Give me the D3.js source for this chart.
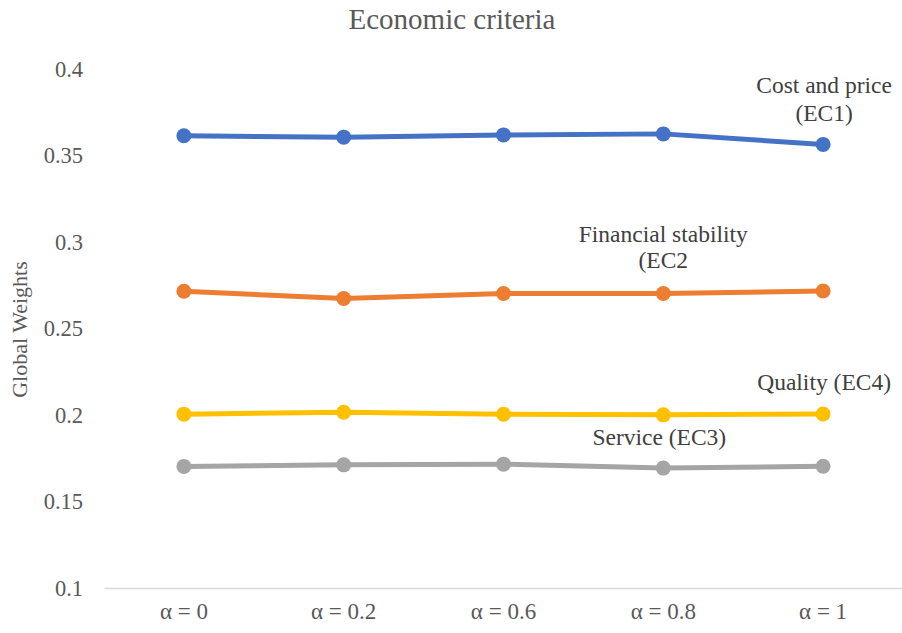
<!DOCTYPE html>
<html>
<head>
<meta charset="utf-8">
<script src="https://cdn.jsdelivr.net/npm/d3@7"></script>
<style>
  html, body { margin: 0; padding: 0; background: #ffffff; }
  svg, svg text { font-family: "Liberation Serif", "Times New Roman", serif !important; }
  svg { display: block; }
</style>
</head>
<body>
<svg id="chart" width="902" height="633"></svg>
<script>
// Categories (fuzziness level α) and global weights of the economic criteria
const categories = ["α = 0", "α = 0.2", "α = 0.6", "α = 0.8", "α = 1"];
const costPrice   = [0.3614, 0.3606, 0.3619, 0.3625, 0.3564];  // EC1
const financial   = [0.2715, 0.2673, 0.2702, 0.2702, 0.2717];  // EC2
const quality     = [0.2005, 0.2016, 0.2004, 0.2001, 0.2006];  // EC4
const service     = [0.1703, 0.1712, 0.1716, 0.1693, 0.1704];  // EC3
const yTicks      = [0.1, 0.15, 0.2, 0.25, 0.3, 0.35, 0.4];
const yTickLabels = ["0.1", "0.15", "0.2", "0.25", "0.3", "0.35", "0.4"];

const series = [
  { name: "EC1", values: costPrice, color: "#4472C4", label: ["Cost and price", "(EC1)"] },
  { name: "EC2", values: financial, color: "#ED7D31", label: ["Financial stability", "(EC2"] },
  { name: "EC4", values: quality,   color: "#FFC000", label: ["Quality (EC4)"] },
  { name: "EC3", values: service,   color: "#A5A5A5", label: ["Service (EC3)"] }
];

// Where each series label sits: anchor category and baseline of the first line
const labelLayout = {
  EC1: { cat: 4, dx: 1,  y: 93,  lineGap: 28 },
  EC2: { cat: 3, dx: 0,  y: 242, lineGap: 26 },
  EC4: { cat: 4, dx: 1,  y: 390, lineGap: 0 },
  EC3: { cat: 3, dx: -4, y: 445, lineGap: 0 }
};

const svg = d3.select("#chart");
const plot = { left: 104, right: 903, top: 69, bottom: 588 };

const x = d3.scaleBand().domain(categories).range([plot.left, plot.right]);
const y = d3.scaleLinear().domain([0.1, 0.4]).range([plot.bottom, plot.top]);
const cx = c => x(c) + x.bandwidth() / 2;

// Title
svg.append("text")
  .attr("x", 452).attr("y", 29)
  .attr("text-anchor", "middle")
  .attr("fill", "#595959")
  .attr("font-size", 29)
  .text("Economic criteria");

// Y axis: labels only, no line or ticks
const yAxis = d3.axisLeft(y).tickValues(yTicks)
  .tickFormat((d, i) => yTickLabels[i]).tickSize(0).tickPadding(0);
const yg = svg.append("g").attr("transform", `translate(83,0)`).call(yAxis)
  .attr("font-family", null).attr("font-size", null);
yg.select(".domain").remove();
yg.selectAll("text")
  .attr("fill", "#595959")
  .attr("font-size", 22.5);

// X axis: baseline plus category labels
const xAxis = d3.axisBottom(x).tickSize(0).tickPadding(15);
const xg = svg.append("g").attr("transform", `translate(0,${plot.bottom})`).call(xAxis)
  .attr("font-family", null).attr("font-size", null);
xg.select(".domain").attr("stroke", "#d9d9d9").attr("stroke-width", 1.5);
xg.selectAll("text")
  .attr("fill", "#595959")
  .attr("font-size", 23);

// Y axis title
svg.append("text")
  .attr("transform", `translate(27,${(plot.top + plot.bottom) / 2 + 1}) rotate(-90)`)
  .attr("text-anchor", "middle")
  .attr("fill", "#595959")
  .attr("font-size", 22)
  .text("Global Weights");

// Lines and markers
const line = d3.line()
  .x((d, i) => cx(categories[i]))
  .y(d => y(d));

series.forEach(s => {
  const g = svg.append("g");
  g.append("path")
    .datum(s.values)
    .attr("d", line)
    .attr("fill", "none")
    .attr("stroke", s.color)
    .attr("stroke-width", 5)
    .attr("stroke-linejoin", "round");
  g.selectAll("circle")
    .data(s.values)
    .join("circle")
    .attr("cx", (d, i) => cx(categories[i]))
    .attr("cy", d => y(d))
    .attr("r", 7.5)
    .attr("fill", s.color);
});

// Series labels
series.forEach(s => {
  const L = labelLayout[s.name];
  const t = svg.append("text")
    .attr("text-anchor", "middle")
    .attr("fill", "#404040")
    .attr("font-size", 23.5);
  s.label.forEach((ln, i) => {
    t.append("tspan")
      .attr("x", cx(categories[L.cat]) + L.dx)
      .attr("y", L.y + i * L.lineGap)
      .text(ln);
  });
});
</script>
</body>
</html>
